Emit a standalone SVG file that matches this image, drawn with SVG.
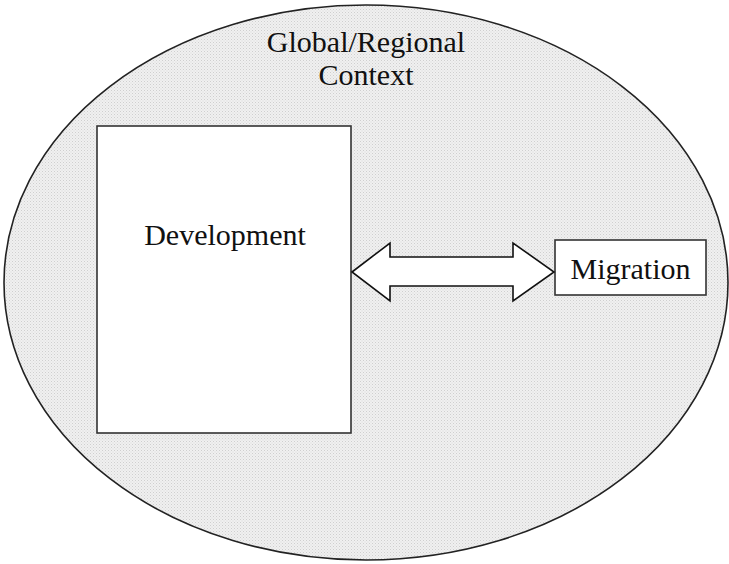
<svg xmlns="http://www.w3.org/2000/svg" width="729" height="564" viewBox="0 0 729 564">
<defs>
<pattern id="stipple" width="3" height="3" patternUnits="userSpaceOnUse">
<rect width="3" height="3" fill="#f0f0f0"/>
<rect x="0" y="0" width="1" height="1" fill="#cfcfcf"/>
<rect x="1.5" y="1.5" width="1" height="1" fill="#dadada"/>
</pattern>
</defs>
<style>
.lbl{font-family:"Liberation Serif","Times New Roman",serif;font-size:30px;fill:#111;text-anchor:middle}
.box{fill:#fff;stroke:#333;stroke-width:1.6}
</style>
<rect width="729" height="564" fill="#fff"/>
<g id="context">
<ellipse cx="366" cy="282.5" rx="362" ry="277.5" fill="url(#stipple)" stroke="#222" stroke-width="1.6"/>
<text class="lbl" x="366" y="52">Global/Regional</text>
<text class="lbl" x="366" y="85">Context</text>
</g>
<g id="development">
<rect class="box" x="97" y="126" width="254" height="307"/>
<text class="lbl" x="225" y="245">Development</text>
</g>
<g id="migration">
<rect class="box" x="555" y="240" width="151" height="55"/>
<text class="lbl" x="630.5" y="279">Migration</text>
</g>
<g id="connectors">
<polygon points="352,272 390,243 390,257 513,257 513,243 554,272 513,301 513,286 390,286 390,301" fill="#fff" stroke="#111" stroke-width="1.6" stroke-linejoin="miter"/>
</g>
</svg>
